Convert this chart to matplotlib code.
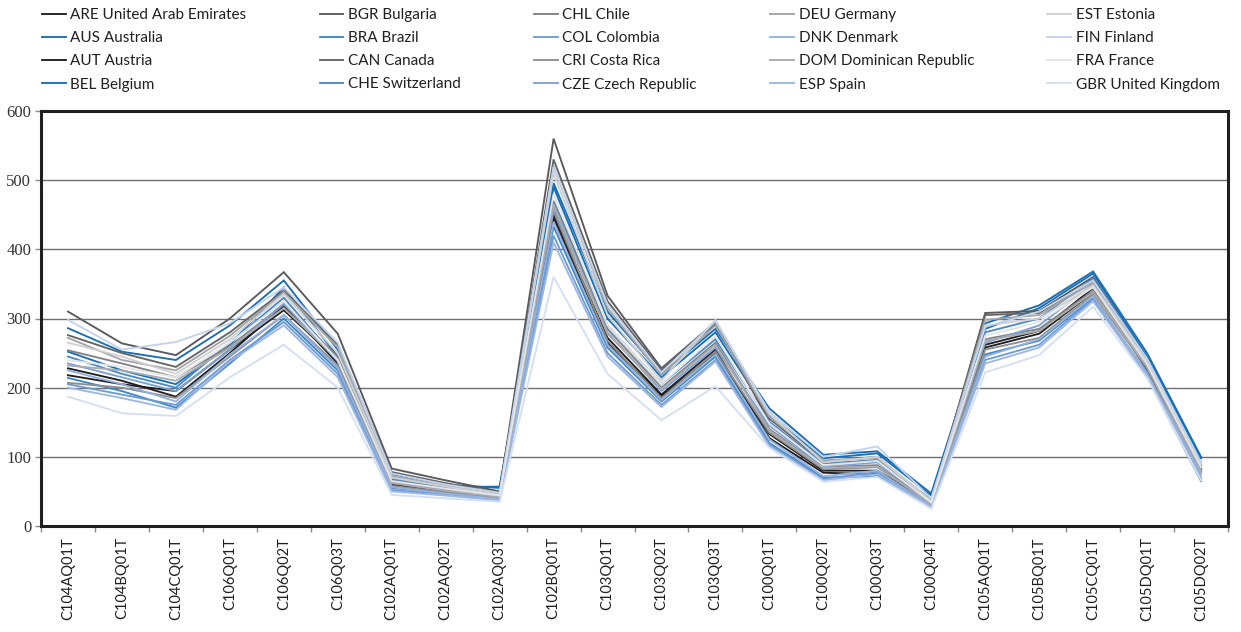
import matplotlib
matplotlib.use("Agg")
import matplotlib.pyplot as plt

categories = ["C104AQ01T", "C104BQ01T", "C104CQ01T", "C106Q01T", "C106Q02T", "C106Q03T",
              "C102AQ01T", "C102AQ02T", "C102AQ03T", "C102BQ01T", "C103Q01T", "C103Q02T",
              "C103Q03T", "C100Q01T", "C100Q02T", "C100Q03T", "C100Q04T", "C105AQ01T",
              "C105BQ01T", "C105CQ01T", "C105DQ01T", "C105DQ02T"]

country_names = ["ARE United Arab Emirates", "AUS Australia", "AUT Austria", "BEL Belgium",
                 "BGR Bulgaria", "BRA Brazil", "CAN Canada", "CHE Switzerland",
                 "CHL Chile", "COL Colombia", "CRI Costa Rica", "CZE Czech Republic",
                 "DEU Germany", "DNK Denmark", "DOM Dominican Republic", "ESP Spain",
                 "EST Estonia", "FIN Finland", "FRA France", "GBR United Kingdom"]

ARE = [228, 210, 187, 250, 318, 235, 62, 52, 42, 450, 272, 190, 255, 127, 77, 75, 30, 262, 282, 344, 226, 82]
AUS = [286, 252, 240, 290, 355, 255, 75, 60, 55, 496, 310, 220, 285, 170, 103, 108, 47, 293, 319, 368, 250, 100]
AUT = [218, 205, 195, 255, 312, 240, 60, 50, 44, 445, 265, 188, 250, 133, 80, 80, 32, 258, 278, 338, 230, 80]
BEL = [252, 225, 205, 262, 345, 245, 70, 56, 57, 490, 300, 215, 280, 160, 98, 105, 44, 285, 315, 365, 245, 98]
BGR = [310, 264, 247, 300, 367, 278, 83, 66, 50, 560, 333, 228, 295, 150, 90, 95, 35, 308, 311, 360, 240, 85]
BRA = [214, 195, 171, 235, 300, 225, 55, 48, 40, 433, 258, 180, 245, 120, 70, 72, 28, 248, 268, 330, 216, 65]
CAN = [276, 250, 230, 280, 340, 262, 78, 62, 48, 530, 325, 225, 292, 155, 93, 100, 36, 305, 308, 355, 238, 88]
CHE = [245, 220, 200, 265, 330, 240, 68, 55, 45, 470, 290, 205, 270, 150, 90, 95, 38, 280, 300, 358, 240, 92]
CHL = [254, 235, 215, 260, 320, 245, 66, 54, 44, 468, 285, 200, 265, 140, 85, 88, 33, 270, 285, 340, 232, 84]
COL = [205, 190, 175, 240, 295, 220, 52, 46, 38, 420, 250, 175, 240, 118, 68, 78, 27, 240, 262, 328, 222, 70]
CRI = [207, 200, 185, 245, 305, 232, 58, 49, 41, 455, 268, 185, 252, 135, 82, 85, 31, 255, 272, 335, 228, 78]
CZE = [235, 215, 195, 255, 322, 238, 64, 53, 43, 460, 280, 195, 258, 145, 86, 92, 34, 265, 290, 350, 235, 86]
DEU = [272, 240, 225, 275, 338, 258, 72, 58, 46, 520, 315, 218, 290, 158, 95, 98, 37, 298, 305, 352, 236, 87]
DNK = [225, 205, 180, 248, 305, 228, 56, 47, 39, 440, 262, 182, 248, 125, 72, 80, 29, 245, 270, 332, 220, 75]
DOM = [232, 225, 210, 258, 315, 240, 62, 51, 42, 465, 278, 198, 262, 138, 84, 86, 32, 268, 282, 338, 230, 80]
ESP = [200, 185, 168, 238, 290, 215, 50, 44, 37, 410, 245, 172, 238, 115, 66, 75, 27, 235, 258, 325, 218, 68]
EST = [265, 245, 220, 270, 335, 250, 70, 57, 45, 510, 305, 210, 298, 162, 92, 100, 36, 290, 300, 348, 238, 90]
FIN = [298, 255, 266, 293, 345, 265, 76, 60, 48, 519, 320, 222, 296, 165, 100, 115, 40, 288, 310, 355, 242, 92]
FRA = [240, 230, 215, 265, 325, 240, 65, 54, 44, 480, 290, 205, 275, 148, 88, 94, 34, 275, 295, 345, 234, 85]
GBR = [187, 163, 159, 215, 262, 200, 45, 40, 35, 360, 220, 153, 202, 113, 64, 71, 25, 222, 247, 317, 214, 66]

series = [ARE, AUS, AUT, BEL, BGR, BRA, CAN, CHE, CHL, COL, CRI, CZE,
          DEU, DNK, DOM, ESP, EST, FIN, FRA, GBR]

colors = ["#231f20", "#1b6db3", "#231f20", "#1670b8",
          "#58595b", "#3d87c9", "#646567", "#4a88c7",
          "#808285", "#6d9bd4", "#8c8e90", "#7da2d6",
          "#a3a5a8", "#93b1df", "#a9abae", "#9cb7e1",
          "#cfd1d3", "#c3d3ec", "#e4e5e6", "#d4dff1"]

W, H = 1241, 632
fig = plt.figure(figsize=(W / 100, H / 100), dpi=100)
ax = fig.add_axes([41 / W, 1 - 526 / H, (1228 - 41) / W, (526 - 111) / H])

x = list(range(len(categories)))
handles = []
for name, vals, c in zip(country_names, series, colors):
    ln, = ax.plot(x, vals, color=c, lw=1.35, label=name, solid_joinstyle="miter")
    handles.append(ln)

ax.set_xlim(-0.5, len(categories) - 0.5)
ax.set_ylim(0, 600)
ax.set_yticks(range(0, 601, 100))
ax.set_yticklabels([str(v) for v in range(0, 601, 100)],
                   fontfamily="Liberation Serif", fontsize=12, color="#333333")
ax.yaxis.grid(True, color="#6d6e70", lw=1.0)
ax.set_axisbelow(True)

ax.set_xticks([i - 0.5 for i in range(len(categories) + 1)], minor=False)
ax.set_xticklabels([])
ax.set_xticks(x, minor=True)
ax.set_xticklabels(categories, minor=True, rotation=90, fontfamily="Lato",
                   fontsize=10.5, color="#231f20", va="top")
ax.tick_params(axis="x", which="minor", length=0, pad=8)
ax.tick_params(axis="x", which="major", length=4, color="#8a8a8a", width=1)
ax.tick_params(axis="y", length=4, color="#8a8a8a", width=1, pad=3)

for s in ax.spines.values():
    s.set_linewidth(2.2)
    s.set_color("#231f20")

fig.legend(handles=handles, loc="upper left", bbox_to_anchor=(42 / W, 1 - 8 / H),
           ncol=5, frameon=False, prop={"family": "Lato", "size": 11},
           handlelength=1.55, handletextpad=0.3, columnspacing=4.8,
           labelspacing=0.6, borderaxespad=0, borderpad=0, labelcolor="#231f20")

fig.savefig("out.png", dpi=100)
